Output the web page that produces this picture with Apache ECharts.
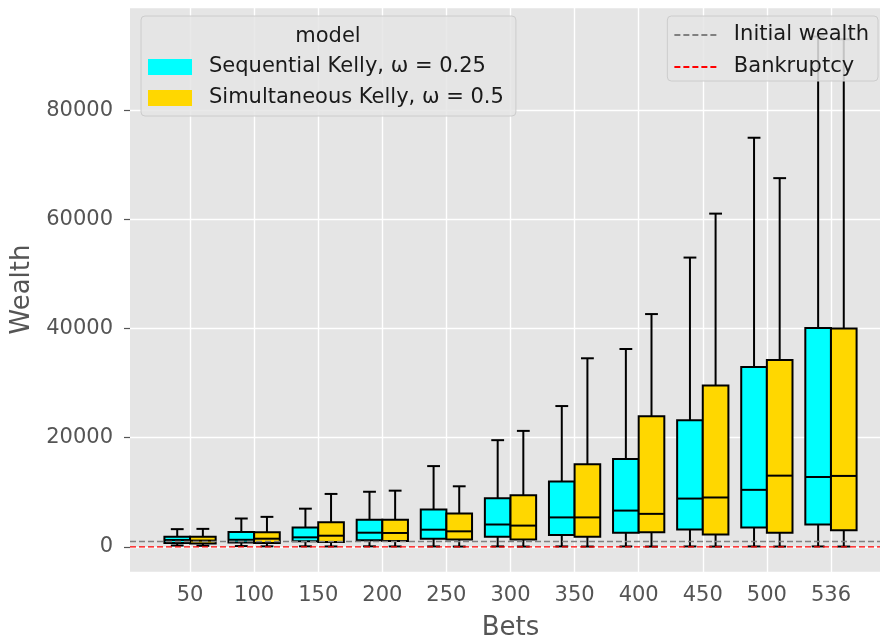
<!DOCTYPE html>
<html>
<head>
<meta charset="utf-8">
<script src="https://cdn.jsdelivr.net/npm/echarts@6/dist/echarts.min.js"></script>
<style>
    html, body { margin: 0; padding: 0; background: #fff; }
    #chart { width: 880px; height: 641px; }
</style>
</head>
<body>
<div id="chart"></div>
<script>
(function() {
    'use strict';

    var bets = ['50', '100', '150', '200', '250', '300', '350', '400', '450', '500', '536'];

    // [min, q1, median, q3, max] per bet count
    var sequential = [
        [250, 700, 1250, 1850, 3250],
        [150, 800, 1300, 2750, 5200],
        [100, 1050, 1750, 3550, 7000],
        [100, 1200, 2600, 4950, 10100],
        [80, 1500, 3150, 6850, 14800],
        [80, 1850, 4100, 8900, 19550],
        [80, 2200, 5400, 12000, 25800],
        [80, 2600, 6650, 16100, 36250],
        [80, 3200, 8850, 23200, 53000],
        [80, 3550, 10450, 32950, 74950],
        [80, 4100, 12800, 40100, 93500]
    ];
    var simultaneous = [
        [200, 600, 1150, 1850, 3300],
        [100, 700, 1500, 2700, 5500],
        [80, 900, 2050, 4500, 9700],
        [80, 1100, 2550, 4950, 10300],
        [60, 1350, 2850, 6100, 11100],
        [60, 1350, 3900, 9450, 21250],
        [60, 1850, 5400, 15150, 34550],
        [60, 2700, 6050, 23950, 42650],
        [60, 2250, 9050, 29550, 61050],
        [60, 2600, 13050, 34250, 67550],
        [60, 3050, 13000, 40000, 93000]
    ];

    var initialWealth = 1000;
    var bankruptcy = 0;
    var yMin = -4600;
    var yMax = 98900;

    var seqName = 'Sequential Kelly, \u03c9 = 0.25';
    var simName = 'Simultaneous Kelly, \u03c9 = 0.5';
    var font = 'DejaVu Sans';
    var dashIcon = 'path://M0,0h6v2h-6zM9,0h6v2h-6zM18,0h6v2h-6zM27,0h6v2h-6zM36,0h6v2h-6z';

    function toItems(stats) {
        return stats.map(function(s, i) { return [i].concat(s); });
    }

    function boxRenderer(offset) {
        return function(params, api) {
            var cat = api.value(0);
            var band = api.size([1, 0])[0];
            var cx = api.coord([cat, 0])[0] + offset * band;
            var w = band * 0.4;
            var cap = w / 4;
            var pMin = api.coord([cat, api.value(1)])[1];
            var pQ1 = api.coord([cat, api.value(2)])[1];
            var pMed = api.coord([cat, api.value(3)])[1];
            var pQ3 = api.coord([cat, api.value(4)])[1];
            var pMax = api.coord([cat, api.value(5)])[1];
            var line = { stroke: '#000', lineWidth: 2 };
            return {
                type: 'group',
                children: [
                    { type: 'line', shape: { x1: cx, y1: pQ3, x2: cx, y2: pMax }, style: line },
                    { type: 'line', shape: { x1: cx, y1: pQ1, x2: cx, y2: pMin }, style: line },
                    { type: 'line', shape: { x1: cx - cap, y1: pMax, x2: cx + cap, y2: pMax }, style: line },
                    { type: 'line', shape: { x1: cx - cap, y1: pMin, x2: cx + cap, y2: pMin }, style: line },
                    { type: 'rect', shape: { x: cx - w / 2, y: pQ3, width: w, height: pQ1 - pQ3 },
                      style: { fill: api.visual('color'), stroke: '#000', lineWidth: 2 } },
                    { type: 'line', shape: { x1: cx - w / 2, y1: pMed, x2: cx + w / 2, y2: pMed }, style: line }
                ]
            };
        };
    }

    var echart = echarts.init(document.getElementById('chart'));

    var option = {
        animation: false,
        textStyle: { fontFamily: font },
        grid: [
            { left: 130, right: 0, top: 7, bottom: 69, outerBoundsMode: 'none',
              show: true, backgroundColor: '#E5E5E5', borderWidth: 0 },
            { left: 158, right: 17, top: 7, bottom: 69, outerBoundsMode: 'none' },
            { left: 190, right: 49, top: 7, bottom: 69, outerBoundsMode: 'none' }
        ],
        xAxis: [
            { gridIndex: 0, type: 'value', min: 0, max: 1, show: false },
            {
                gridIndex: 1, type: 'category', data: bets,
                axisLine: { show: false },
                axisTick: { alignWithLabel: true, length: 6, lineStyle: { color: '#555', width: 1.2 } },
                axisLabel: { fontSize: 21, color: '#555', margin: 13, fontFamily: font },
                splitLine: { show: false },
                name: 'Bets', nameLocation: 'middle', nameGap: 43,
                nameTextStyle: { fontSize: 26, color: '#555', fontFamily: font }
            },
            {
                gridIndex: 2, type: 'value', min: 0, max: 10, interval: 1,
                axisLine: { show: false }, axisTick: { show: false }, axisLabel: { show: false },
                splitLine: { show: true, lineStyle: { color: '#fff', width: 1.4 } }
            }
        ],
        yAxis: [
            {
                gridIndex: 0, type: 'value', min: yMin, max: yMax, splitNumber: 5,
                axisLine: { show: false },
                axisTick: { length: 6, lineStyle: { color: '#555', width: 1.2 } },
                axisLabel: {
                    fontSize: 21, color: '#555', margin: 17, fontFamily: font,
                    showMinLabel: false, showMaxLabel: false,
                    formatter: function(v) { return String(v); }
                },
                splitLine: { lineStyle: { color: '#fff', width: 1.4 } },
                name: 'Wealth', nameLocation: 'middle', nameGap: 87,
                nameTextStyle: { fontSize: 26, color: '#555', fontFamily: font }
            },
            { gridIndex: 1, type: 'value', min: yMin, max: yMax, show: false },
            { gridIndex: 2, type: 'value', min: yMin, max: yMax, show: false }
        ],
        legend: [
            {
                data: [seqName, simName],
                orient: 'vertical', left: 141, top: 16,
                padding: [39, 12, 6, 7], itemGap: 7,
                itemWidth: 44, itemHeight: 16, icon: 'rect',
                backgroundColor: 'rgba(229,229,229,0.85)', borderColor: '#cccccc', borderWidth: 1, borderRadius: 4,
                textStyle: { fontSize: 21, color: '#1a1a1a', lineHeight: 24, padding: [0, 0, 0, 12], fontFamily: font }
            },
            {
                data: [
                    { name: 'Initial wealth', icon: dashIcon },
                    { name: 'Bankruptcy', icon: dashIcon }
                ],
                orient: 'vertical', right: 2, top: 16,
                padding: [7, 9, 2, 7], itemGap: 8,
                itemWidth: 43, itemHeight: 2,
                backgroundColor: 'rgba(229,229,229,0.85)', borderColor: '#cccccc', borderWidth: 1, borderRadius: 4,
                textStyle: { fontSize: 21, color: '#1a1a1a', lineHeight: 24, padding: [0, 0, 0, 12], fontFamily: font }
            }
        ],
        graphic: [
            { type: 'text', x: 328, y: 26, z: 100,
              style: { text: 'model', font: '21px "DejaVu Sans"', fill: '#1a1a1a', textAlign: 'center', textVerticalAlign: 'top' } }
        ],
        series: [
            {
                name: seqName, type: 'custom', xAxisIndex: 1, yAxisIndex: 1, z: 2,
                itemStyle: { color: '#00FFFF' },
                renderItem: boxRenderer(-0.2),
                encode: { x: 0, y: [1, 2, 3, 4, 5] },
                data: toItems(sequential)
            },
            {
                name: simName, type: 'custom', xAxisIndex: 1, yAxisIndex: 1, z: 2,
                itemStyle: { color: '#FFD700' },
                renderItem: boxRenderer(0.2),
                encode: { x: 0, y: [1, 2, 3, 4, 5] },
                data: toItems(simultaneous)
            },
            {
                name: 'Initial wealth', type: 'line', xAxisIndex: 0, yAxisIndex: 0, z: 3,
                symbol: 'none', color: '#808080',
                lineStyle: { color: '#808080', width: 1.4, type: [6, 3] },
                data: [[0, initialWealth], [1, initialWealth]]
            },
            {
                name: 'Bankruptcy', type: 'line', xAxisIndex: 0, yAxisIndex: 0, z: 3,
                symbol: 'none', color: '#FF0000',
                lineStyle: { color: '#FF0000', width: 1.4, type: [6, 3] },
                data: [[0, bankruptcy], [1, bankruptcy]]
            }
        ]
    };

    echart.setOption(option);
})();
</script>
</body>
</html>
